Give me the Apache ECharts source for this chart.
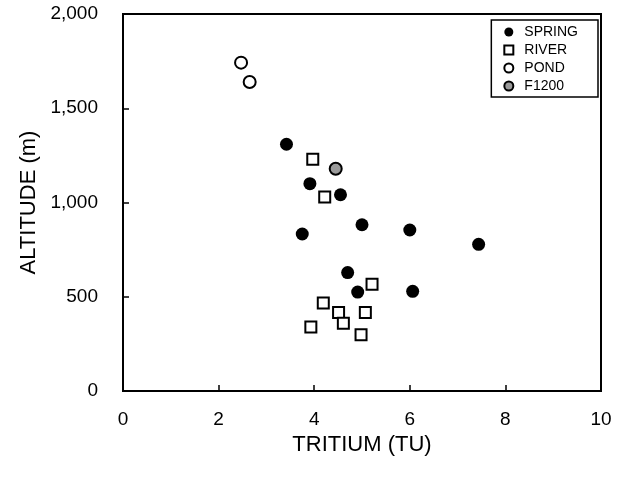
<!DOCTYPE html>
<html>
<head>
<meta charset="utf-8">
<script src="https://cdn.jsdelivr.net/npm/echarts@6/dist/echarts.min.js"></script>
<style>
html,body{margin:0;padding:0;background:#fff;}
#chart{width:629px;height:479px;}
</style>
</head>
<body>
<div id="chart"></div>
<script>
// ---- data ----
const xTicks = [0, 2, 4, 6, 8, 10];
const yTicks = [0, 500, 1000, 1500, 2000];

const springTritium = [3.42, 3.91, 4.55, 5.00, 3.75, 6.00, 7.44, 4.70, 4.91, 6.06];
const springAltitude = [1309, 1100, 1041, 882, 833, 854, 778, 628, 525, 529];

const riverTritium = [3.97, 4.22, 5.21, 4.19, 4.51, 5.07, 4.61, 3.93, 4.98];
const riverAltitude = [1229, 1029, 566, 467, 417, 417, 359, 340, 299];

const pondTritium = [2.47, 2.65];
const pondAltitude = [1742, 1639];

const f1200Tritium = [4.45];
const f1200Altitude = [1179];

const seriesNames = ['SPRING', 'RIVER', 'POND', 'F1200'];

function pairs(xs, ys) { return xs.map((x, i) => [x, ys[i]]); }

const FONT = '"Liberation Sans", Arial, Helvetica, sans-serif';

const chart = echarts.init(document.getElementById('chart'), null, {renderer: 'canvas'});
chart.setOption({
  animation: false,
  backgroundColor: '#fff',
  grid: {
    left: 123, top: 14, right: 28, bottom: 88,
    show: true, borderColor: '#000', borderWidth: 2, backgroundColor: 'transparent'
  },
  xAxis: {
    type: 'value', min: xTicks[0], max: xTicks[xTicks.length - 1], interval: 2,
    name: 'TRITIUM (TU)', nameLocation: 'middle', nameGap: 35,
    nameTextStyle: {fontFamily: FONT, fontSize: 22, color: '#000'},
    axisLine: {show: true, lineStyle: {color: '#000', width: 2}},
    axisTick: {show: true, inside: true, length: 6, lineStyle: {color: '#000', width: 1.5}},
    axisLabel: {fontFamily: FONT, fontSize: 19, color: '#000', margin: 19},
    splitLine: {show: false}
  },
  yAxis: {
    type: 'value', min: yTicks[0], max: yTicks[yTicks.length - 1], interval: 500,
    name: 'ALTITUDE (m)', nameLocation: 'middle', nameGap: 82, nameRotate: 90,
    nameTextStyle: {fontFamily: FONT, fontSize: 22, color: '#000'},
    axisLine: {show: true, lineStyle: {color: '#000', width: 2}},
    axisTick: {show: true, inside: true, length: 6, lineStyle: {color: '#000', width: 1.5}},
    axisLabel: {
      fontFamily: FONT, fontSize: 19, color: '#000', margin: 25,
      formatter: v => v.toLocaleString('en-US')
    },
    splitLine: {show: false}
  },
  legend: {
    orient: 'vertical', right: 31, top: 20,
    data: seriesNames,
    borderColor: '#000', borderWidth: 1.5, borderRadius: 0,
    padding: [5, 20, 4, 12], itemGap: 4, itemWidth: 9, itemHeight: 9,
    textStyle: {fontFamily: FONT, fontSize: 14, color: '#000', padding: [0, 0, 0, 6]},
    backgroundColor: '#fff'
  },
  series: [
    {
      name: seriesNames[0], type: 'scatter', symbol: 'circle', symbolSize: 13,
      itemStyle: {color: '#000', borderColor: '#000', borderWidth: 0, opacity: 1},
      data: pairs(springTritium, springAltitude)
    },
    {
      name: seriesNames[1], type: 'scatter', symbol: 'rect', symbolSize: 11,
      itemStyle: {color: '#fff', borderColor: '#000', borderWidth: 2, opacity: 1},
      data: pairs(riverTritium, riverAltitude)
    },
    {
      name: seriesNames[2], type: 'scatter', symbol: 'circle', symbolSize: 12,
      itemStyle: {color: '#fff', borderColor: '#000', borderWidth: 2, opacity: 1},
      data: pairs(pondTritium, pondAltitude)
    },
    {
      name: seriesNames[3], type: 'scatter', symbol: 'circle', symbolSize: 12,
      itemStyle: {color: '#9a9a9a', borderColor: '#000', borderWidth: 2, opacity: 1},
      data: pairs(f1200Tritium, f1200Altitude)
    }
  ]
});
</script>
</body>
</html>
